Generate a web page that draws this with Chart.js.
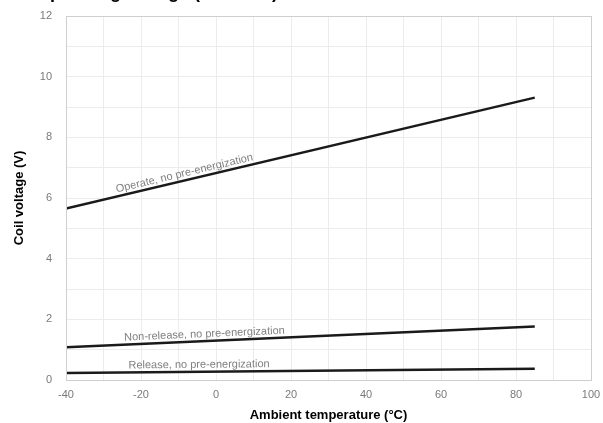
<!DOCTYPE html>
<html>
<head>
<meta charset="utf-8">
<script src="https://cdn.jsdelivr.net/npm/chart.js@4/dist/chart.umd.min.js"></script>
<style>
  html, body { margin: 0; padding: 0; background: #fff; }
  #wrap { width: 603px; height: 423px; position: relative; }
</style>
</head>
<body>
<div id="wrap"><canvas id="ch"></canvas></div>
<script>
// temperature points (°C) and coil voltage per curve (V)
const temps       = [-40, 85];
const operateV    = [5.65, 9.31];
const nonReleaseV = [1.08, 1.76];
const releaseV    = [0.23, 0.37];

const curveNames  = ['Operate, no pre-energization', 'Non-release, no pre-energization', 'Release, no pre-energization'];
const labelAtTemp = [-8, -3, -4.5];   // where each curve label is centred (°C)

const xTicks = [-40, -20, 0, 20, 40, 60, 80, 100];
const yTicks = [0, 2, 4, 6, 8, 10, 12];

const FONT = "'Liberation Sans', Arial, sans-serif";
const series = [operateV, nonReleaseV, releaseV];

const pts = v => temps.map((t, i) => ({ x: t, y: v[i] }));

// curve labels drawn along each line
const curveLabels = {
  id: 'curveLabels',
  afterDatasetsDraw(chart) {
    const { ctx, scales: { x, y } } = chart;
    ctx.save();
    ctx.font = '11px ' + FONT;
    ctx.fillStyle = '#7f7f7f';
    ctx.textAlign = 'center';
    ctx.textBaseline = 'middle';
    series.forEach((v, k) => {
      const t = labelAtTemp[k];
      const f = (t - temps[0]) / (temps[1] - temps[0]);
      const val = v[0] + f * (v[1] - v[0]);
      const px = x.getPixelForValue(t), py = y.getPixelForValue(val);
      const dx = x.getPixelForValue(temps[1]) - x.getPixelForValue(temps[0]);
      const dy = y.getPixelForValue(v[1]) - y.getPixelForValue(v[0]);
      const a = Math.atan2(dy, dx);
      ctx.save();
      ctx.translate(px, py);
      ctx.rotate(a);
      ctx.fillText(curveNames[k], 0, -7);
      ctx.restore();
    });
    ctx.restore();
  }
};

// plot frame + clipped chart title at top
const frame = {
  id: 'frame',
  afterDraw(chart) {
    const { ctx, chartArea: a } = chart;
    ctx.save();
    ctx.strokeStyle = '#cfcfcf';
    ctx.lineWidth = 1;
    ctx.strokeRect(Math.round(a.left) + 0.5, Math.round(a.top) + 0.5,
                   Math.round(a.right - a.left), Math.round(a.bottom - a.top));
    ctx.fillStyle = '#000';
    ctx.font = 'bold 18px ' + FONT;
    ctx.textAlign = 'left';
    ctx.textBaseline = 'alphabetic';
    ctx.fillText('Coil operating voltage (DC coils)', 0, -2);
    ctx.restore();
  }
};

new Chart(document.getElementById('ch'), {
  type: 'scatter',
  data: {
    datasets: series.map((v, k) => ({
      label: curveNames[k],
      data: pts(v),
      showLine: true,
      borderColor: '#1a1a1a',
      backgroundColor: '#1a1a1a',
      borderWidth: 2.5,
      pointRadius: 0,
      tension: 0,
    }))
  },
  options: {
    responsive: true,
    maintainAspectRatio: false,
    animation: false,
    layout: { padding: { top: 16, right: 12, left: 0, bottom: 0 } },
    plugins: {
      legend: { display: false },
      tooltip: { enabled: false },
    },
    scales: {
      x: {
        type: 'linear',
        min: xTicks[0],
        max: xTicks[xTicks.length - 1],
        afterFit: s => { s.height = 43; s.paddingLeft = 0; s.paddingRight = 0; },
        border: { display: false },
        grid: { color: '#ececec', lineWidth: 1, drawTicks: false },
        ticks: {
          stepSize: 10,
          padding: 8,
          color: '#7a7a7a',
          font: { family: FONT, size: 11 },
          maxRotation: 0,
          callback: v => xTicks.includes(v) ? v : '',
        },
        title: {
          display: true,
          text: 'Ambient temperature (°C)',
          color: '#000',
          font: { family: FONT, size: 13, weight: 'bold' },
          padding: { top: 0, bottom: 0 },
        }
      },
      y: {
        type: 'linear',
        min: yTicks[0],
        max: yTicks[yTicks.length - 1],
        afterFit: s => { s.width = 66; s.paddingTop = 0; s.paddingBottom = 0; },
        border: { display: false },
        grid: { color: '#ececec', lineWidth: 1, drawTicks: false },
        ticks: {
          stepSize: 1,
          padding: 14,
          color: '#7a7a7a',
          font: { family: FONT, size: 11 },
          callback: v => yTicks.includes(v) ? v : '',
        },
        title: {
          display: true,
          text: 'Coil voltage (V)',
          color: '#000',
          font: { family: FONT, size: 13, weight: 'bold' },
          padding: { top: 12, bottom: 0 },
        }
      }
    }
  },
  plugins: [curveLabels, frame]
});
</script>
</body>
</html>
